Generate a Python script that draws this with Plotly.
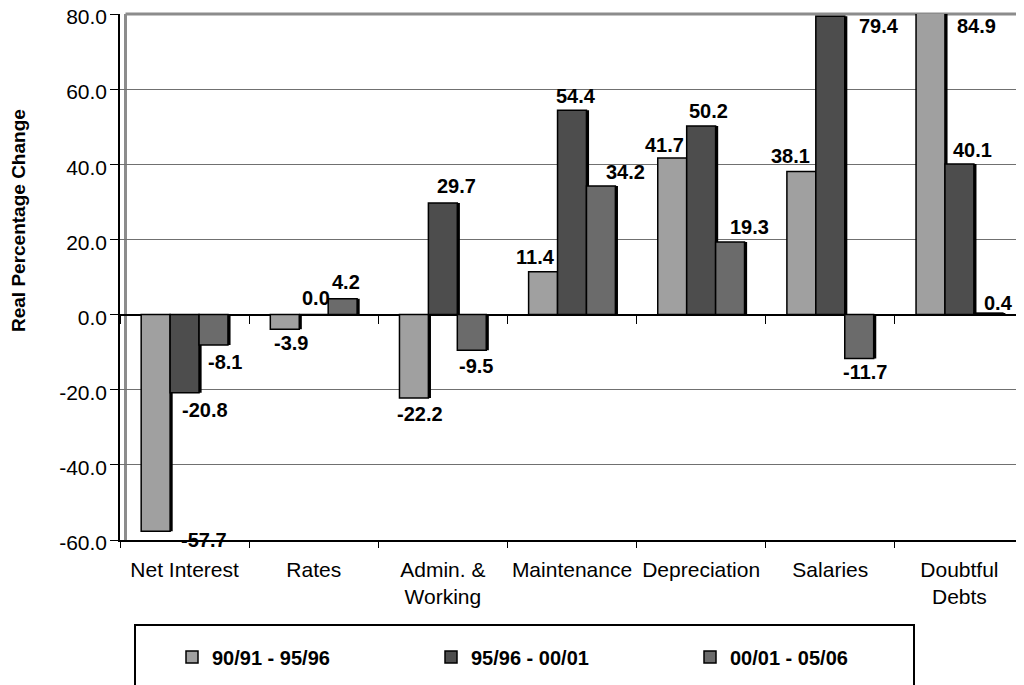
import plotly.graph_objects as go

categories = ["Net Interest", "Rates", "Admin. &<br>Working", "Maintenance",
              "Depreciation", "Salaries", "Doubtful<br>Debts"]
series_names = ["90/91 - 95/96", "95/96 - 00/01", "00/01 - 05/06"]
s1 = [-57.7, -3.9, -22.2, 11.4, 41.7, 38.1, 84.9]
s2 = [-20.8, 0.0, 29.7, 54.4, 50.2, 79.4, 40.1]
s3 = [-8.1, 4.2, -9.5, 34.2, 19.3, -11.7, 0.4]
values = [s1, s2, s3]
colors = ["#A0A0A0", "#4D4D4D", "#6B6B6B"]
y_ticks = [-60, -40, -20, 0, 20, 40, 60, 80]

# label pixel shifts (dx right, dy down) per series
label_dx = [[48, 6, 6, -8, -8, -11, 46],
            [20, 2, 14, 4, 7, 49, 13],
            [11, 3, 4, 25, 19, 6, 10]]
label_dy = [[9, 14, 16, -15, -13, -15, 12],
            [17, -17, -17, -14, -15, 10, -14],
            [17, -17, 16, -14, -15, 13, -10]]

YMIN, YMAX = -60, 80
PAGE_OFF = 8  # default body margin of the html page
W, H = 1024 - PAGE_OFF, 685 - PAGE_OFF
ML, MR, MT, MB = 120 - PAGE_OFF, 0, 14 - PAGE_OFF, 145
PW = W - ML - MR
PH = H - MT - MB
FONT = "Liberation Sans, Arial"

slot = 0.224
xs = list(range(len(categories)))
shadow = 0.02

fig = go.Figure()
# shadows
for i in range(3):
    fig.add_trace(go.Bar(
        x=xs, y=values[i], width=slot, offset=(i - 1.5) * slot + shadow,
        marker=dict(color="black", line=dict(width=0)),
        showlegend=False, hoverinfo="skip"))
for i in range(3):
    fig.add_trace(go.Bar(
        x=xs, y=values[i], width=slot, offset=(i - 1.5) * slot,
        name=series_names[i],
        marker=dict(color=colors[i], line=dict(color="black", width=1.5))))

annotations = []
for i in range(3):
    for k, v in enumerate(values[i]):
        yv = min(max(v, YMIN), YMAX)
        annotations.append(dict(
            x=k + (i - 1) * slot, y=yv, xref="x", yref="y",
            text=f"{v:.1f}", showarrow=False,
            xshift=label_dx[i][k], yshift=-label_dy[i][k],
            font=dict(family=FONT, size=20, color="black", weight="bold")))


def px_x(p):
    """page pixel -> paper fraction"""
    return (p - PAGE_OFF - ML) / PW


def px_y(p):
    return (MT + PH - (p - PAGE_OFF)) / PH


annotations.append(dict(
    x=px_x(18), y=px_y(221), xref="paper", yref="paper",
    xanchor="center", yanchor="middle",
    text="<b>Real Percentage Change</b>", textangle=-90, showarrow=False,
    font=dict(family=FONT, size=19, color="black")))

shapes = [
    dict(type="line", xref="paper", yref="paper", x0=px_x(125.5), x1=px_x(125.5),
         y0=0, y1=1, line=dict(color="#8C8C8C", width=3), layer="below"),
    dict(type="line", xref="paper", yref="paper", x0=px_x(125.5), x1=1,
         y0=1, y1=1, line=dict(color="#8C8C8C", width=3), layer="below"),
    dict(type="rect", xref="paper", yref="paper", x0=px_x(135), x1=px_x(914),
         y0=px_y(625), y1=px_y(700), line=dict(color="black", width=2)),
]

fig.update_layout(
    width=W, height=H,
    margin=dict(l=ML, r=MR, t=MT, b=MB, autoexpand=False),
    paper_bgcolor="white", plot_bgcolor="white",
    barmode="overlay",
    font=dict(family=FONT, size=20, color="black"),
    xaxis=dict(range=[-0.5, len(categories) - 0.5], tickvals=xs, ticktext=categories,
               ticks="outside", ticklen=10, tickcolor="rgba(0,0,0,0)",
               showline=True, linecolor="black", linewidth=1.5,
               showgrid=False, zeroline=False, automargin=False,
               tickfont=dict(size=21)),
    xaxis2=dict(overlaying="x", anchor="free", position=(0 - YMIN) / (YMAX - YMIN),
                range=[-0.5, len(categories) - 0.5],
                tickvals=[k - 0.5 for k in range(len(categories) + 1)],
                ticks="outside", ticklen=8, tickcolor="black", tickwidth=1,
                showticklabels=False, showline=False, showgrid=False, zeroline=False),
    xaxis3=dict(overlaying="x", anchor="y", side="bottom",
                range=[-0.5, len(categories) - 0.5],
                tickvals=[k - 0.5 for k in range(len(categories) + 1)],
                ticks="outside", ticklen=7, tickcolor="black", tickwidth=1,
                showticklabels=False, showline=False, showgrid=False, zeroline=False),
    yaxis=dict(range=[YMIN, YMAX], tickvals=y_ticks,
               ticktext=[f"{t:.1f}" for t in y_ticks],
               ticks="outside", ticklen=8, tickcolor="black",
               showline=True, linecolor="black", linewidth=1.5,
               showgrid=True, gridcolor="#707070", gridwidth=1,
               zeroline=True, zerolinecolor="black", zerolinewidth=1.5,
               automargin=False, ticklabeloverflow="allow",
               ticklabelshift=3, ticklabelstandoff=-1,
               tickfont=dict(size=21)),
    legend=dict(orientation="h", x=px_x(172), y=px_y(657), xanchor="left", yanchor="middle",
                entrywidth=214, entrywidthmode="pixels", borderwidth=0,
                bgcolor="rgba(0,0,0,0)",
                font=dict(family=FONT, size=20, weight="bold")),
    annotations=annotations,
    shapes=shapes,
)
# invisible helper traces so the extra tick axes render
fig.add_trace(go.Scatter(x=[0], y=[0], xaxis="x2", yaxis="y", mode="markers",
                         marker=dict(opacity=0), showlegend=False, hoverinfo="skip"))
fig.add_trace(go.Scatter(x=[0], y=[0], xaxis="x3", yaxis="y", mode="markers",
                         marker=dict(opacity=0), showlegend=False, hoverinfo="skip"))

fig.write_html("out.html")
